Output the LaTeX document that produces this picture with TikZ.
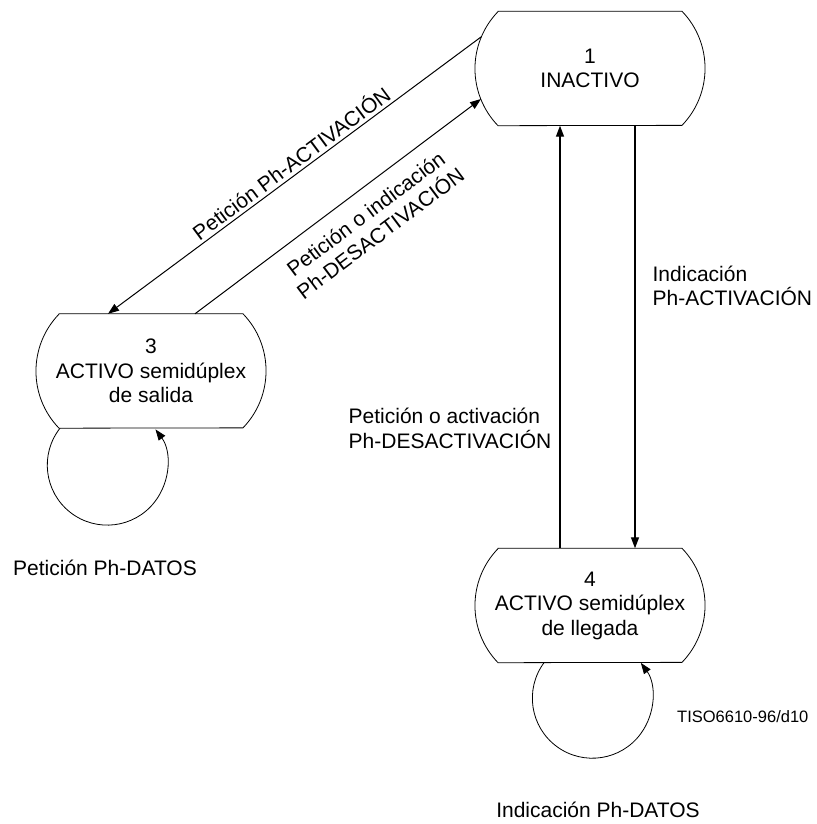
\documentclass[tikz,border=0pt]{standalone}
\usepackage{fontspec}
\setmainfont{Liberation Sans}
\usetikzlibrary{arrows.meta,calc}
\begin{document}
\begin{tikzpicture}[x=1pt,y=1pt,
  every node/.style={font=\fontsize{21}{24.5}\selectfont},
  state/.style={minimum width=230pt, minimum height=114pt, inner sep=0pt, align=center},
  outline/.style={line width=0.8pt},
  tip/.tip={Triangle[length=11pt,width=8pt]},
  trans/.style={line width=1pt, -tip},
  transback/.style={line width=1pt, tip-},
  vtrans/.style={line width=1.3pt, -tip},
  selfloop/.style={line width=0.8pt, -tip},
  lbl/.style={inner sep=0pt, align=left},
  refnum/.style={font=\fontsize{16.5}{19}\selectfont, anchor=base west, inner sep=0pt}]
\useasboundingbox (0,0) rectangle (816,824);

% states
\node[state] (n1) at (590,755.5) {1\\INACTIVO};
\node[state] (n3) at (151,453) {3\\ACTIVO semidúplex\\de salida};
\node[state] (n4) at (590,218.5) {4\\ACTIVO semidúplex\\de llegada};

% state outlines: flat top and bottom, bulging sides
\foreach \s in {n1,n3,n4}
  \draw[outline] ([xshift=-92pt]\s.north) -- ([xshift=92pt]\s.north)
     arc[start angle=44, end angle=-44, radius=82.1pt]
     -- ([xshift=-92pt]\s.south)
     arc[start angle=224, end angle=136, radius=82.1pt] -- cycle;

% transitions between 1 and 3
\draw[transback] ([xshift=-43pt]n3.north)
  -- node[sloped, above=3pt, pos=0.51, inner sep=0pt] {Petición Ph-ACTIVACIÓN}
  ([shift={(-109pt,31.5pt)}]n1.center);
\draw[trans] ([xshift=44pt]n3.north)
  -- node[sloped, below=14pt, pos=0.55, inner sep=0pt, align=center] {Petición o indicación\\Ph-DESACTIVACIÓN}
  ([shift={(-109pt,-30.5pt)}]n1.center);

% transitions between 1 and 4
\draw[vtrans] ([xshift=-30pt]n4.north)
  -- node[lbl, pos=0.284, left=8pt] {Petición o activación\\Ph-DESACTIVACIÓN}
  ([xshift=-30pt]n1.south);
\draw[vtrans] ([xshift=45pt]n1.south)
  -- node[lbl, pos=0.379, right=17pt] {Indicación\\Ph-ACTIVACIÓN}
  ([xshift=45pt]n4.north);

% self loops
\draw[selfloop] ([xshift=-91pt]n3.south) arc[start angle=142, end angle=396.6, radius=60pt];
\draw[selfloop] ([xshift=-46pt]n4.south) arc[start angle=143.7, end angle=396.1, radius=60pt];

% loop labels and reference number
\node[anchor=base] (d3) at (105,248) {Petición Ph-DATOS};
\node[anchor=base] (d4) at (598,6) {Indicación Ph-DATOS};
\node[refnum] (ref) at (677,101) {TISO6610-96/d10};
\end{tikzpicture}
\end{document}
